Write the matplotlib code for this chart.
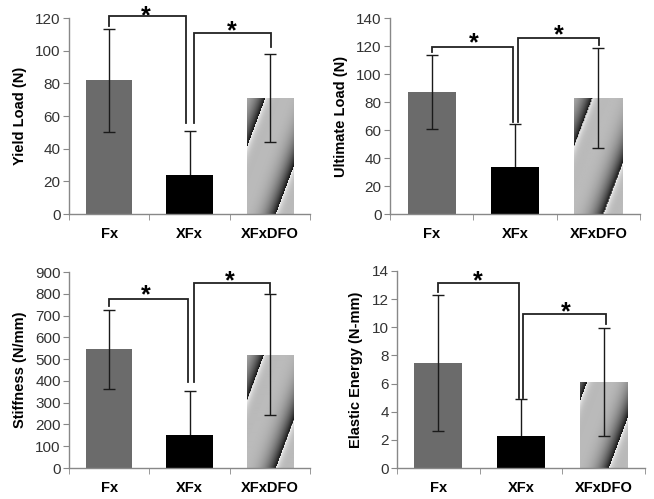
import numpy as np
import matplotlib
matplotlib.use("Agg")
import matplotlib.pyplot as plt

plt.rcParams['font.family'] = ['Liberation Sans', 'DejaVu Sans']

groups = ["Fx", "XFx", "XFxDFO"]

yield_mean = [82, 24, 71]
yield_sd = [31.5, 27, 27]
ult_mean = [87, 33.5, 83]
ult_sd = [26.5, 30.5, 35.5]
stiff_mean = [545, 150, 520]
stiff_sd = [180, 202, 278]
energy_mean = [7.45, 2.25, 6.1]
energy_sd = [4.85, 2.65, 3.85]

ylabels = ["Yield Load (N)", "Ultimate Load (N)", "Stiffness (N/mm)", "Elastic Energy (N-mm)"]
ymax = [120, 140, 900, 14]
ystep = [20, 20, 100, 2]

# significance brackets: (left x, left leg bottom, top, right x, right leg bottom)
br1_yield = [0.0, 115, 121, 0.96, 56]
br2_yield = [1.056, 56, 110.8, 2.01, 102]
br1_ult = [0.0, 116, 119.5, 0.976, 66]
br2_ult = [1.036, 66, 125.7, 2.01, 121]
br1_stiff = [0.0, 745, 774, 0.98, 396]
br2_stiff = [1.056, 396, 848, 2.0, 805]
br1_energy = [0.0, 12.5, 13.15, 0.97, 5.0]
br2_energy = [1.02, 5.0, 10.96, 2.03, 10.2]
# star positions (x, y)
stars_yield = [(0.46, 124.9), (1.53, 115.7)]
stars_ult = [(0.5, 126.4), (1.53, 132)]
stars_stiff = [(0.46, 822), (1.5, 886)]
stars_energy = [(0.48, 13.7), (1.54, 11.5)]

W, H = 654, 499
fig = plt.figure(figsize=(W / 100, H / 100), dpi=100)

# axes rectangles in pixels: left, right, top, bottom
rects = [(69, 310, 18, 214), (390, 640, 18, 214), (69, 310, 272, 468), (397, 645, 271, 468)]
means = [yield_mean, ult_mean, stiff_mean, energy_mean]
sds = [yield_sd, ult_sd, stiff_sd, energy_sd]
brs = [(br1_yield, br2_yield), (br1_ult, br2_ult), (br1_stiff, br2_stiff), (br1_energy, br2_energy)]
stars = [stars_yield, stars_ult, stars_stiff, stars_energy]


def stripe_img(wpx, hpx):
    xs = np.arange(wpx)[None, :]
    ys = np.arange(hpx)[:, None]
    # row 0 = top of bar; stripes lean "/"
    period = 54.0
    d = xs - 0.375 * (hpx - 1 - ys)
    u = ((d - 27.0) / period + 0.97) % 1.0
    f = 0.68 + 0.26 * np.exp(-u / 0.07) + 0.06 * np.sin(np.pi * u) - 0.6 * u ** 5
    return np.clip(f, 0, 1)


bar_w = 0.58
for i in range(4):
    l, r, t, b = rects[i]
    ax = fig.add_axes([l / W, 1 - b / H, (r - l) / W, (b - t) / H])
    x = np.arange(3)
    ax.set_xlim(-0.5, 2.5)
    ax.set_ylim(0, ymax[i])
    bars = ax.bar(x, means[i], width=bar_w, color=["#6b6b6b", "#000000", "#b0b0b0"],
                  edgecolor="none", zorder=2)
    # striped gradient fill for third bar
    bx = x[2]
    hpx = max(int(round(means[i][2] / ymax[i] * (b - t))), 2)
    wpx = int(round(bar_w / 3 * (r - l)))
    img = stripe_img(wpx, hpx)
    im = ax.imshow(img, cmap="gray", vmin=0, vmax=1, aspect="auto",
                   extent=(bx - bar_w / 2, bx + bar_w / 2, 0, means[i][2]),
                   interpolation="bilinear", zorder=2.5)
    im.set_clip_path(bars[2])
    ax.set_xlim(-0.5, 2.5)
    ax.set_ylim(0, ymax[i])
    for k in range(3):
        ax.errorbar([x[k]], [means[i][k]], yerr=[sds[i][k]], fmt="none", ecolor="#1a1a1a",
                    elinewidth=1.0, capsize=4, capthick=1.0,
                    zorder=1.5 if k == 1 else 3)
    # brackets
    for br in brs[i]:
        xl, yl, yt, xr, yr = br
        ax.plot([xl, xl, xr, xr], [yl, yt, yt, yr], color="#222222", lw=1.3,
                clip_on=False, zorder=4, solid_joinstyle="miter")
    for sx, sy in stars[i]:
        ax.annotate("*", (sx, sy), xytext=(0, -9.5), textcoords="offset points",
                    ha="center", va="baseline", fontsize=18, fontweight="bold",
                    annotation_clip=False)
    ax.set_yticks(np.arange(0, ymax[i] + ystep[i] / 2, ystep[i]))
    ax.set_xticks(x)
    ax.set_xticklabels(groups, fontsize=10.5, fontweight="bold")
    ax.set_xticks([-0.5, 0.5, 1.5, 2.5], minor=True)
    ax.tick_params(axis="x", which="major", length=0, pad=9)
    ax.tick_params(axis="x", which="minor", length=4, color="#888888", direction="out")
    ax.tick_params(axis="y", length=4, color="#888888", direction="out", labelsize=11,
                   labelcolor="#333333", pad=2)
    for s in ["top", "right"]:
        ax.spines[s].set_visible(False)
    for s in ["left", "bottom"]:
        ax.spines[s].set_color("#888888")
        ax.spines[s].set_linewidth(1.0)
    ax.set_ylabel(ylabels[i], fontsize=10.5, fontweight="bold", labelpad=6)

fig.savefig("out.png", dpi=100)
